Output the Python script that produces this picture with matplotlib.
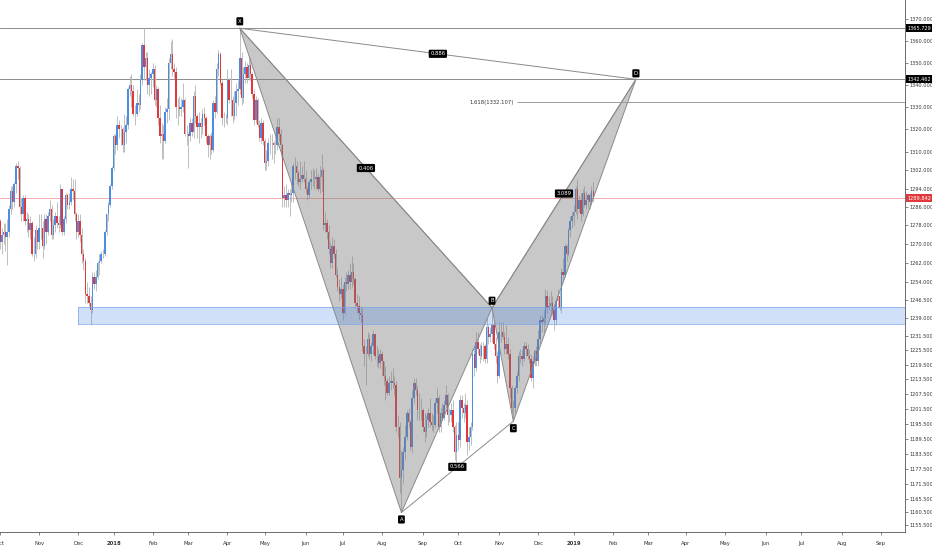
import numpy as np
import pandas as pd
import matplotlib
matplotlib.use('Agg')
import matplotlib.pyplot as plt
from matplotlib.ticker import FixedLocator, FuncFormatter, NullLocator, NullFormatter

# XAUUSD daily bars, Oct 2 2017 .. Jan 17 2019 (one line per week)
first_open = 1280
closes = [
    1271, 1274, 1275, 1273, 1275,
    1285, 1293, 1288, 1296, 1304,
    1303, 1286, 1283, 1290, 1280,
    1281, 1276, 1279, 1266, 1266,
    1276, 1271, 1277, 1277, 1269,
    1281, 1275, 1282, 1285, 1274,
    1278, 1282, 1279, 1278, 1294,
    1275, 1281, 1291, 1287, 1288,
    1294, 1293, 1283, 1275, 1280,
    1274, 1266, 1263, 1249, 1248,
    1245, 1242, 1256, 1253, 1256,
    1262, 1263, 1266, 1266, 1275,
    1283, 1287, 1295, 1303,
    1317, 1313, 1322, 1320,
    1320, 1313, 1319, 1322, 1338,
    1340, 1337, 1327, 1327, 1332,
    1331, 1342, 1358, 1348, 1352,
    1340, 1343, 1345, 1347, 1333,
    1338, 1325, 1317, 1318, 1315,
    1328, 1329, 1350, 1354, 1347,
    1346, 1330, 1330, 1329, 1330,
    1333, 1318, 1318, 1317, 1323,
    1319, 1335, 1326, 1321, 1323,
    1321, 1327, 1325, 1317, 1313,
    1317, 1311, 1332, 1328, 1347,
    1354, 1341, 1325, 1325, 1325,
    1342, 1333, 1333, 1326, 1332,
    1337, 1338, 1352, 1334, 1345,
    1348, 1343, 1349, 1345, 1336,
    1324, 1333, 1322, 1316, 1323,
    1315, 1305, 1306, 1314, 1314,
    1314, 1313, 1313, 1321, 1318,
    1313, 1290, 1291, 1289, 1292,
    1291, 1292, 1304, 1304, 1301,
    1297, 1298, 1300, 1298, 1294,
    1291, 1297, 1298, 1298, 1298,
    1299, 1294, 1299, 1302, 1278,
    1279, 1275, 1268, 1262, 1269,
    1266, 1257, 1252, 1249, 1251,
    1241, 1254, 1253, 1257, 1254,
    1258, 1255, 1245, 1244, 1241,
    1240, 1227, 1224, 1224, 1230,
    1224, 1227, 1232, 1223, 1223,
    1220, 1224, 1221, 1215, 1213,
    1208, 1212, 1213, 1212, 1211,
    1194, 1194, 1174, 1177, 1184,
    1190, 1200, 1196, 1186, 1206,
    1212, 1209, 1201, 1201, 1201,
    1194, 1192, 1197, 1200, 1196,
    1195, 1195, 1204, 1206, 1194,
    1200, 1198, 1203, 1207, 1199,
    1199, 1201, 1194, 1184, 1191,
    1189, 1205, 1202, 1200, 1203,
    1188, 1190, 1194, 1224, 1218,
    1229, 1226, 1223, 1227, 1227,
    1222, 1235, 1231, 1232, 1236,
    1228, 1223, 1215, 1233, 1233,
    1231, 1226, 1228, 1224, 1210,
    1202, 1202, 1210, 1215, 1223,
    1223, 1222, 1227, 1226, 1223,
    1222, 1214, 1221, 1225, 1221,
    1230, 1238, 1237, 1239, 1248,
    1243, 1244, 1245, 1242, 1238,
    1246, 1248, 1243, 1258, 1257,
    1269, 1266, 1276, 1280,
    1282, 1284, 1294, 1285,
    1289, 1283, 1292, 1287, 1289,
    1291, 1288, 1293, 1289.842,
]
highs = [
    1281, 1277, 1279, 1279, 1281,
    1287, 1295, 1295, 1297, 1305,
    1306, 1304, 1290, 1291, 1291,
    1284, 1283, 1282, 1280, 1273,
    1278, 1276, 1283, 1283, 1280,
    1283, 1283, 1284, 1289, 1287,
    1281, 1284, 1288, 1282, 1296,
    1294, 1282, 1292, 1292, 1292,
    1299, 1298, 1298, 1284, 1283,
    1283, 1277, 1268, 1264, 1254,
    1252, 1248, 1258, 1258, 1259,
    1263, 1266, 1267, 1268, 1276,
    1283, 1288, 1296, 1304,
    1318, 1318, 1326, 1324,
    1322, 1321, 1327, 1326, 1339,
    1344, 1345, 1340, 1331, 1338,
    1336, 1345, 1359, 1366, 1355,
    1355, 1347, 1346, 1350, 1349,
    1340, 1339, 1331, 1323, 1322,
    1330, 1334, 1352, 1360, 1361,
    1350, 1348, 1334, 1335, 1334,
    1341, 1334, 1322, 1319, 1325,
    1325, 1337, 1340, 1327, 1328,
    1325, 1329, 1330, 1326, 1318,
    1318, 1319, 1333, 1335, 1350,
    1356, 1355, 1342, 1328, 1327,
    1347, 1343, 1347, 1335, 1337,
    1341, 1342, 1365.729, 1355, 1348,
    1351, 1350, 1353, 1352, 1346,
    1338, 1335, 1334, 1324, 1325,
    1324, 1316, 1311, 1316, 1318,
    1318, 1315, 1318, 1325, 1325,
    1320, 1314, 1295, 1296, 1294,
    1294, 1297, 1305, 1308, 1306,
    1302, 1306, 1304, 1306, 1302,
    1295, 1298, 1302, 1303, 1302,
    1303, 1301, 1304, 1309, 1303,
    1284, 1281, 1278, 1271, 1273,
    1272, 1268, 1260, 1255, 1256,
    1253, 1256, 1258, 1259, 1262,
    1265, 1262, 1256, 1249, 1248,
    1244, 1243, 1230, 1227, 1233,
    1232, 1229, 1234, 1232, 1227,
    1226, 1226, 1225, 1221, 1219,
    1214, 1215, 1217, 1218, 1215,
    1213, 1199, 1196, 1185, 1186,
    1195, 1201, 1202, 1197, 1209,
    1214, 1214, 1211, 1208, 1206,
    1202, 1200, 1199, 1202, 1206,
    1200, 1199, 1206, 1210, 1207,
    1202, 1204, 1205, 1211, 1208,
    1202, 1204, 1205, 1195, 1196,
    1196, 1207, 1207, 1204, 1208,
    1205, 1194, 1196, 1226, 1227,
    1233, 1233, 1228, 1229, 1229,
    1228, 1239, 1236, 1235, 1243.1,
    1237, 1231, 1225, 1237, 1237,
    1237, 1233, 1236, 1231, 1226,
    1211, 1205, 1211, 1217, 1225,
    1226, 1226, 1229, 1229, 1228,
    1226, 1224, 1223, 1226, 1227,
    1234, 1240, 1240, 1242, 1251,
    1250, 1248, 1250, 1248, 1244,
    1247, 1251, 1250, 1260, 1264,
    1270, 1270, 1277, 1282,
    1284, 1287, 1295, 1298,
    1291, 1292, 1294, 1295, 1293,
    1292, 1292, 1295, 1297,
]
lows = [
    1268, 1266, 1270, 1267, 1261,
    1273, 1283, 1285, 1286, 1292,
    1298, 1283, 1280, 1280, 1278,
    1275, 1273, 1272, 1265, 1263,
    1264, 1268, 1268, 1272, 1264,
    1268, 1270, 1274, 1280, 1272,
    1272, 1275, 1277, 1275, 1277,
    1274, 1274, 1279, 1285, 1285,
    1287, 1289, 1280, 1272, 1273,
    1271, 1262, 1259, 1245, 1245,
    1244, 1236, 1241, 1251, 1250,
    1255, 1257, 1262, 1264, 1265,
    1274, 1280, 1286, 1294,
    1302, 1309, 1311, 1316,
    1313, 1310, 1310, 1314, 1320,
    1335, 1330, 1326, 1322, 1326,
    1328, 1329, 1340, 1342, 1342,
    1336, 1335, 1336, 1339, 1331,
    1330, 1322, 1314, 1307, 1307,
    1314, 1323, 1324, 1347, 1344,
    1343, 1325, 1322, 1326, 1326,
    1328, 1317, 1313, 1303, 1315,
    1317, 1316, 1323, 1316, 1314,
    1316, 1318, 1322, 1314, 1308,
    1307, 1309, 1310, 1325, 1327,
    1344, 1340, 1322, 1321, 1323,
    1322, 1332, 1326, 1323, 1324,
    1326, 1331, 1336, 1331, 1332,
    1341, 1341, 1342, 1342, 1334,
    1322, 1323, 1321, 1315, 1314,
    1313, 1302, 1302, 1304, 1309,
    1307, 1305, 1309, 1311, 1315,
    1308, 1286, 1286, 1286, 1286,
    1282, 1288, 1288, 1298, 1296,
    1295, 1294, 1297, 1297, 1292,
    1289, 1290, 1294, 1295, 1294,
    1294, 1293, 1292, 1293, 1276,
    1275, 1272, 1266, 1260, 1260,
    1264, 1256, 1250, 1246, 1247,
    1238, 1240, 1250, 1251, 1251,
    1252, 1253, 1243, 1241, 1238,
    1237, 1225, 1219, 1211, 1223,
    1222, 1221, 1224, 1222, 1219,
    1218, 1218, 1215, 1211, 1205,
    1207, 1207, 1209, 1210, 1207,
    1192, 1190, 1168, 1160.3, 1172,
    1181, 1189, 1194, 1185, 1184,
    1204, 1207, 1197, 1197, 1197,
    1192, 1188, 1190, 1194, 1194,
    1193, 1192, 1194, 1200, 1192,
    1192, 1197, 1197, 1202, 1195,
    1196, 1196, 1192, 1181, 1180,
    1185, 1186, 1198, 1196, 1198,
    1183, 1185, 1187, 1193, 1215,
    1217, 1224, 1220, 1222, 1221,
    1220, 1220, 1228, 1229, 1229,
    1226, 1220, 1212, 1214, 1229,
    1230, 1224, 1224, 1222, 1206,
    1200, 1196.5, 1200, 1208, 1213,
    1220, 1219, 1221, 1223, 1222,
    1220, 1213, 1210, 1219, 1219,
    1219, 1228, 1233, 1233, 1236,
    1241, 1242, 1240, 1240, 1234,
    1236, 1243, 1242, 1241, 1254,
    1256, 1263, 1265, 1273,
    1277, 1278, 1283, 1281,
    1284, 1280, 1282, 1286, 1285,
    1286, 1285, 1287, 1288,
]

# harmonic pattern points
pattern_names = ['X', 'A', 'B', 'C', 'D']
pattern_dates = ['2018-04-11', '2018-08-16', '2018-10-26', '2018-11-13', '2019-02-20']
pattern_prices = [1365.729, 1160.3, 1243.1, 1196.5, 1342.462]
# (from, to, text) for the ratio tags
ratio_legs = [(0, 4, '0.886'), (0, 2, '0.406'), (2, 4, '3.089'), (1, 3, '0.566')]

fib_ratio = '1.618'
fib_price = 1332.107
fib_start = '2018-11-15'

zone_start = '2017-12-01'
zone_low, zone_high = 1236.3, 1243.4

y_ticks = [1370, 1360, 1350, 1340, 1330, 1320, 1310, 1302, 1294, 1286, 1278, 1270,
           1262, 1254, 1246.5, 1239, 1231.5, 1225.5, 1219.5, 1213.5, 1207.5, 1201.5,
           1195.5, 1189.5, 1183.5, 1177.5, 1171.5, 1165.5, 1160.5, 1155.5]

# trading calendar (weekdays, no Christmas / New Year)
holidays = pd.to_datetime(['2017-12-25', '2018-01-01', '2018-12-25', '2019-01-01'])
days = pd.bdate_range('2017-10-02', '2019-09-30')
days = days[~days.isin(holidays)]
pos = {d: i for i, d in enumerate(days)}

C = np.array(closes, dtype=float)
O = np.array([first_open] + closes[:-1], dtype=float)
H = np.array(highs, dtype=float)
L = np.array(lows, dtype=float)
x = np.arange(len(C))

fig = plt.figure(figsize=(9.32, 5.5), dpi=100)
ax = fig.add_axes([0, 18 / 550, 905 / 932, 532 / 550])
ax.set_yscale('log')

# candles
up = C >= O
lo = np.minimum(O, C)
hi = np.maximum(O, C)
ax.vlines(x, L, H, color='#b4b4b4', lw=0.6, zorder=2)
ax.bar(x[up], (hi - lo)[up], bottom=lo[up], width=0.85, color='#4d8ce4', lw=0, zorder=3)
ax.bar(x[~up], (hi - lo)[~up], bottom=lo[~up], width=0.85, color='#e2383c', lw=0, zorder=3)

# horizontal levels
ax.axhline(pattern_prices[0], color='#8c8c8c', lw=0.7, zorder=1)
ax.axhline(pattern_prices[4], color='#8c8c8c', lw=0.7, zorder=1)
ax.axhline(C[-1], color='#f3a0a0', lw=0.6, zorder=1)

xmin, xmax = 0.5, 509.5

# support zone
zx = pos[pd.Timestamp(zone_start)]
ax.fill_between([zx, xmax], zone_low, zone_high, color='#4a86e8', alpha=0.25, lw=0, zorder=5)
ax.plot([zx, xmax, xmax, zx, zx], [zone_low, zone_low, zone_high, zone_high, zone_low],
        color='#7aa5ec', lw=0.5, zorder=5)

# XABCD pattern
px = [pos[pd.Timestamp(d)] for d in pattern_dates]
pp = pattern_prices
for tri in [(0, 1, 2), (2, 3, 4)]:
    ax.fill([px[k] for k in tri], [pp[k] for k in tri], color='#777777', alpha=0.4, lw=0, zorder=4)
    ax.plot([px[k] for k in tri + (tri[0],)], [pp[k] for k in tri + (tri[0],)],
            color='#8a8a8a', lw=0.7, zorder=6)
for a, b, txt in ratio_legs:
    ax.plot([px[a], px[b]], [pp[a], pp[b]], color='#8a8a8a', lw=0.7, zorder=6)
    ax.text((px[a] + px[b]) / 2, np.sqrt(pp[a] * pp[b]), txt, ha='center', va='center',
            fontsize=3.8, color='white', zorder=8,
            bbox=dict(boxstyle='round,pad=0.3,rounding_size=0.2', fc='black', ec='none'))

offsets = [7, -7, 7, -7, 6]
for name, xi, yi, off in zip(pattern_names, px, pp, offsets):
    ax.annotate(name, (xi, yi), xytext=(0, off), textcoords='offset pixels',
                ha='center', va='center', fontsize=3.8, color='white', zorder=8,
                bbox=dict(boxstyle='round,pad=0.3,rounding_size=0.2', fc='black', ec='none'))

# 1.618 extension
fx = pos[pd.Timestamp(fib_start)]
ax.hlines(fib_price, fx, xmax, color='#9a9a9a', lw=0.7, zorder=6)
ax.annotate('{}({:.3f})'.format(fib_ratio, fib_price), (fx, fib_price), xytext=(-3, 0),
            textcoords='offset pixels', ha='right', va='center', fontsize=3.8, color='#333333')

# axes
ax.set_xlim(xmin, xmax)
ax.set_ylim(1152.7, 1378.8)
for s in ['top', 'left']:
    ax.spines[s].set_visible(False)
for s in ['right', 'bottom']:
    ax.spines[s].set_color('#555555')
    ax.spines[s].set_linewidth(0.6)

ax.yaxis.tick_right()
ax.yaxis.set_major_locator(FixedLocator(y_ticks))
ax.yaxis.set_major_formatter(FuncFormatter(lambda v, p: '{:.3f}'.format(v)))
ax.yaxis.set_minor_locator(NullLocator())
ax.yaxis.set_minor_formatter(NullFormatter())
ax.tick_params(axis='y', labelsize=3.6, length=2, width=0.5, pad=1.2, colors='#555555',
               labelcolor='#333333')

month_idx, month_lbl = [], []
prev = None
for i, d in enumerate(days):
    if (d.year, d.month) != prev:
        month_idx.append(i)
        month_lbl.append(str(d.year) if d.month == 1 else d.strftime('%b'))
        prev = (d.year, d.month)
ax.set_xticks(month_idx)
ax.set_xticklabels(month_lbl)
for t in ax.get_xticklabels():
    if t.get_text().isdigit():
        t.set_fontweight('bold')
ax.tick_params(axis='x', labelsize=3.8, length=2, width=0.5, pad=4.5, colors='#555555',
               labelcolor='#333333')

# price tags on the right scale
for val, col in [(pattern_prices[0], 'black'), (pattern_prices[4], 'black'), (C[-1], '#e2383c')]:
    ax.annotate('{:.3f}'.format(val), (1, val), xycoords=ax.get_yaxis_transform(),
                xytext=(2, 0), textcoords='offset pixels', ha='left', va='center',
                fontsize=3.6, color='white', annotation_clip=False, zorder=10,
                bbox=dict(boxstyle='square,pad=0.3', fc=col, ec='none'))

fig.savefig('out.png', dpi=100)
